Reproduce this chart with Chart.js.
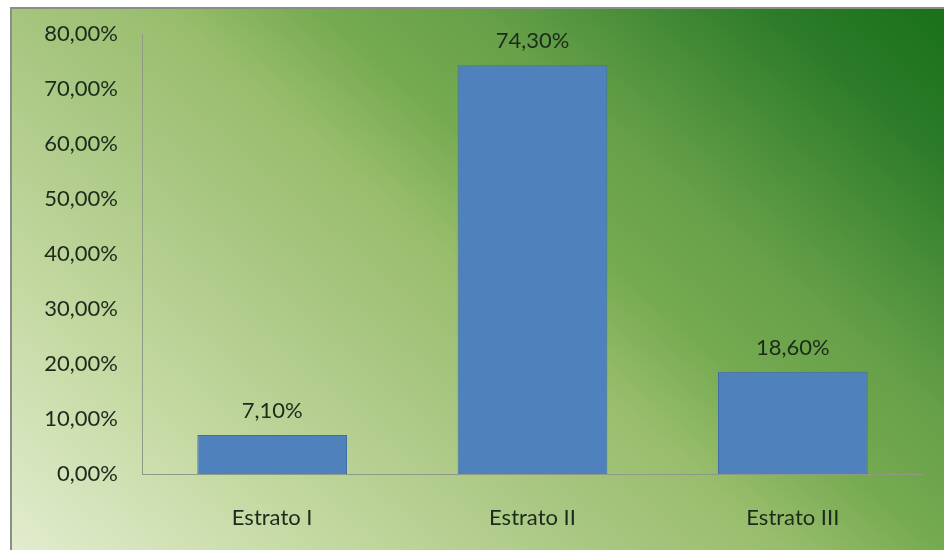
<!DOCTYPE html>
<html>
<head>
<meta charset="utf-8">
<script src="https://cdn.jsdelivr.net/npm/chart.js@4"></script>
<style>
  html, body { margin: 0; padding: 0; background: #ffffff; }
  #frame {
    position: absolute; left: 10px; top: 7px; width: 936px; height: 545px;
    box-sizing: border-box; border: 2px solid #8a8f86;
    background: linear-gradient(41deg, #e2ecce 0%, #c4d9a2 20%, #a6c57e 40%, #98bd6c 50%, #75aa50 60%, #66a048 70%, #2c7b29 89%, #197118 100%);
  }
  #wrap { position: absolute; left: 0; top: 0; width: 944px; height: 550px; }
</style>
</head>
<body>
<div id="frame"></div>
<div id="wrap"><canvas id="c"></canvas></div>
<script>
const categories = ['Estrato I', 'Estrato II', 'Estrato III'];
const shares = [7.1, 74.3, 18.6];
const yTicks = [0, 10, 20, 30, 40, 50, 60, 70, 80];

const pct = v => v.toFixed(2).replace('.', ',') + '%';
const fontFamily = 'Lato, "Open Sans", sans-serif';
const fontSize = 22;
const textColor = '#1c2a1c';

// writes each bar's value above it
const valueLabels = {
  id: 'valueLabels',
  afterDatasetsDraw(chart) {
    const ctx = chart.ctx;
    const meta = chart.getDatasetMeta(0);
    ctx.save();
    ctx.font = fontSize + 'px ' + fontFamily;
    ctx.fillStyle = textColor;
    ctx.textAlign = 'center';
    ctx.textBaseline = 'middle';
    meta.data.forEach((bar, i) => {
      ctx.fillText(pct(shares[i]), bar.x, bar.y - 24);
    });
    ctx.restore();
  }
};

new Chart(document.getElementById('c'), {
  type: 'bar',
  data: {
    labels: categories,
    datasets: [{
      data: shares,
      backgroundColor: '#4f81bd',
      borderColor: '#3f6ea6',
      borderWidth: 1,
      barPercentage: 1,
      categoryPercentage: 0.575
    }]
  },
  options: {
    responsive: true,
    maintainAspectRatio: false,
    animation: false,
    layout: { padding: { top: 34, left: 0, right: 21, bottom: 0 } },
    plugins: { legend: { display: false }, tooltip: { enabled: false } },
    scales: {
      x: {
        grid: { display: false },
        border: { display: true, color: '#8f9a86', width: 1 },
        ticks: { color: textColor, font: { family: fontFamily, size: fontSize }, padding: 23 },
        afterFit(scale) { scale.height = 76; }
      },
      y: {
        min: 0, max: 80,
        afterBuildTicks(axis) { axis.ticks = yTicks.map(v => ({ value: v })); },
        grid: { display: false },
        border: { display: true, color: '#8f9a86', width: 1 },
        ticks: { color: textColor, font: { family: fontFamily, size: fontSize }, padding: 16, callback: v => pct(v) },
        afterFit(scale) { scale.width = 142; }
      }
    }
  },
  plugins: [valueLabels]
});
</script>
</body>
</html>
